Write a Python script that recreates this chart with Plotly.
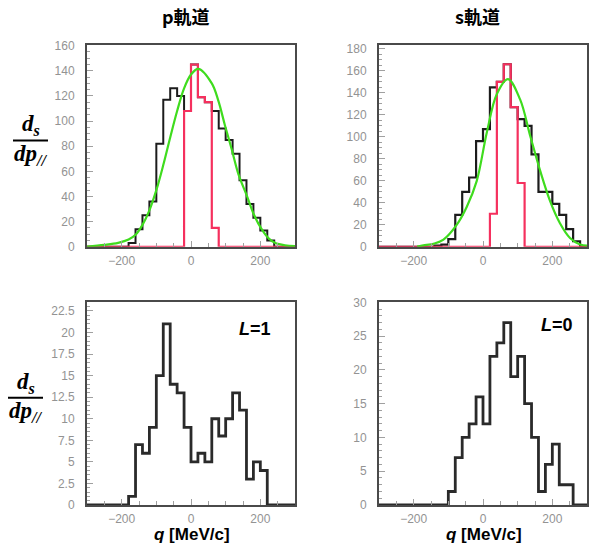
import plotly.graph_objects as go

# ---------------- data ----------------
BIN_WIDTH = 20
X_RANGE = [-300, 300]

# p orbital (top-left)
p_black_start = -180
p_black_counts = [3, 14, 25, 36, 82, 117, 126, 120, 108, 145, 119, 115, 108, 94, 85, 74, 53, 34, 23, 13, 5]
p_red_start = -20
p_red_counts = [108, 145, 119, 115, 15]
p_fit_x = [-300, -250, -210, -180, -160, -140, -120, -100, -80, -60, -40, -20, 0, 21,
           60, 79, 98, 117, 137, 161, 180, 202, 223, 242, 271, 300]
p_fit_y = [0.2, 1.5, 3.1, 5.7, 9.5, 17.4, 29, 45, 65, 87, 108, 126, 137, 141.5,
           130, 116, 96.5, 78, 57.6, 40.7, 26.5, 14.8, 7.0, 3.1, 1.1, 0.5]

# s orbital (top-right)
s_black_start = -140
s_black_counts = [1, 2, 7, 29, 50, 63, 96, 107, 145, 150, 166, 127, 116, 110, 84, 50, 50, 39, 29, 16, 5]
s_red_start = 20
s_red_counts = [30, 150, 166, 127, 58]
s_fit_x = [-190, -172, -140, -114, -76, -47, -18, 11, 40, 72, 107, 136, 165, 193, 222, 251, 280, 300]
s_fit_y = [0.2, 1.2, 3, 6.5, 19.9, 36.2, 59.9, 104, 139, 152.5, 134, 101, 69, 42, 21.4, 8, 2.1, 1.0]

# L=1 (bottom-left)
l1_start = -180
l1_counts = [1, 7, 6, 9, 15, 21, 14, 13, 9, 5, 6, 5, 10, 8, 10, 13, 11, 3, 5, 4]

# L=0 (bottom-right)
l0_start = -100
l0_counts = [2, 7, 10, 12, 16, 12, 22, 24, 27, 19, 22, 15, 10, 2, 6, 9, 3, 3]

x_tick_vals = [-200, 0, 200]
titles = ["p軌道", "s軌道"]
l_labels = ["L=1", "L=0"]
x_title = "q [MeV/c]"

# ---------------- helpers ----------------
W, H = 591, 551


def px(x):
    return x / W


def py(y):
    return 1 - y / H


def step_xy(start, counts):
    edges = [start + BIN_WIDTH * i for i in range(len(counts) + 1)]
    xs = [X_RANGE[0]] + edges + [X_RANGE[1]]
    ys = [0] + list(counts) + [0, 0]
    return xs, ys


BLACK = "#1c1c1c"
RED = "#f5305e"
GREEN = "#3fdc1e"
FRAME = "#4a4a4a"
TICKC = "#a0a0a0"
TICKF = dict(family="Liberation Sans, Arial, sans-serif", size=12, color="#939393")

fig = go.Figure()

panels = [
    ("x", "y", (87, 295), (39, 246), [0, 160.5], 20, 5),
    ("x2", "y2", (379, 587), (39, 246), [0, 183.5], 20, 5),
    ("x3", "y3", (87, 295), (303, 511), [0, 23.5], 2.5, 0.5),
    ("x4", "y4", (379, 587), (303, 511), [0, 30], 5, 1),
]

hists = [
    [(p_black_start, p_black_counts, BLACK, 2), (p_red_start, p_red_counts, RED, 2.2)],
    [(s_black_start, s_black_counts, BLACK, 2.2), (s_red_start, s_red_counts, RED, 2.2)],
    [(l1_start, l1_counts, "#2a2a2a", 2.8)],
    [(l0_start, l0_counts, "#2a2a2a", 2.8)],
]
fits = [(p_fit_x, p_fit_y), (s_fit_x, s_fit_y), None, None]

layout_axes = {}
for i, (xa, ya, xd, yd, yr, ydt, ymin) in enumerate(panels):
    for start, counts, color, lw in hists[i]:
        xs, ys = step_xy(start, counts)
        fig.add_trace(go.Scatter(x=xs, y=ys, mode="lines", line=dict(color=color, width=lw, shape="hv"),
                                 xaxis=xa, yaxis=ya, showlegend=False, hoverinfo="skip"))
    if fits[i] is not None:
        fx, fy = fits[i]
        fig.add_trace(go.Scatter(x=fx, y=fy, mode="lines", line=dict(color=GREEN, width=2.2, shape="spline", smoothing=1.0),
                                 xaxis=xa, yaxis=ya, showlegend=False, hoverinfo="skip"))
    xkey = "xaxis" if xa == "x" else "xaxis" + xa[1:]
    ykey = "yaxis" if ya == "y" else "yaxis" + ya[1:]
    layout_axes[xkey] = dict(
        domain=[px(xd[0]), px(xd[1])], range=X_RANGE, anchor=ya,
        showgrid=False, zeroline=False, showline=True, mirror=True, linecolor=FRAME, linewidth=2,
        tickmode="array", tickvals=x_tick_vals, ticks="inside", ticklen=6, tickcolor=TICKC,
        tickfont=TICKF, ticklabelstandoff=2,
        minor=dict(ticks="inside", dtick=50, tick0=0, ticklen=4, tickcolor=TICKC, showgrid=False),
    )
    layout_axes[ykey] = dict(
        domain=[py(yd[1]), py(yd[0])], range=yr, anchor=xa,
        showgrid=False, zeroline=False, showline=True, mirror=True, linecolor=FRAME, linewidth=2,
        dtick=ydt, tick0=0, ticks="inside", ticklen=6, tickcolor=TICKC, tickfont=TICKF,
        ticklabelstandoff=8,
        minor=dict(ticks="inside", dtick=ymin, tick0=0, ticklen=3, tickcolor=TICKC, showgrid=False),
    )

fig.update_layout(**layout_axes)

annotations = []
TITLE_FONT = dict(family="Noto Sans CJK JP, sans-serif", size=18, color="black")
annotations.append(dict(x=px(186), y=py(9), xref="paper", yref="paper", text="<b>" + titles[0] + "</b>",
                        showarrow=False, font=TITLE_FONT, xanchor="center", yanchor="middle"))
annotations.append(dict(x=px(477), y=py(9), xref="paper", yref="paper", text="<b>" + titles[1] + "</b>",
                        showarrow=False, font=TITLE_FONT, xanchor="center", yanchor="middle"))

LFONT = dict(family="Liberation Sans, Arial, sans-serif", size=18, color="black")
for lab, (cx, cy) in zip(l_labels, [(255, 330), (557, 326)]):
    txt = "<b><i>" + lab[0] + "</i>" + lab[1:] + "</b>"
    annotations.append(dict(x=px(cx), y=py(cy), xref="paper", yref="paper", text=txt,
                            showarrow=False, font=LFONT, xanchor="center", yanchor="middle"))

QFONT = dict(family="Liberation Sans, Arial, sans-serif", size=17, color="black")
for cx in (192, 484):
    txt = "<b><i>" + x_title[0] + "</i>" + x_title[1:] + "</b>"
    annotations.append(dict(x=px(cx), y=py(541), xref="paper", yref="paper", text=txt,
                            showarrow=False, font=QFONT, xanchor="center", yanchor="middle"))

FFONT = dict(family="Liberation Serif, Times New Roman, serif", size=23, color="black")
shapes = []
for (x0, x1, ynum, yline, yden) in [(13, 48, 121, 137, 152), (8, 43, 386, 401, 416)]:
    cx = (x0 + x1) / 2
    annotations.append(dict(x=px(cx), y=py(ynum), xref="paper", yref="paper",
                            text="<b><i>d<sub>s</sub></i></b>", showarrow=False, font=FFONT,
                            xanchor="center", yanchor="middle"))
    annotations.append(dict(x=px(cx), y=py(yden), xref="paper", yref="paper",
                            text="<b><i>dp<sub>//</sub></i></b>", showarrow=False, font=FFONT,
                            xanchor="center", yanchor="middle"))
    shapes.append(dict(type="line", xref="paper", yref="paper", x0=px(x0), x1=px(x1),
                       y0=py(yline), y1=py(yline), line=dict(color="black", width=2)))

fig.update_layout(
    width=W, height=H, margin=dict(l=0, r=0, t=0, b=0),
    paper_bgcolor="white", plot_bgcolor="white",
    annotations=annotations, shapes=shapes, showlegend=False,
)

fig.write_html("out.html")
